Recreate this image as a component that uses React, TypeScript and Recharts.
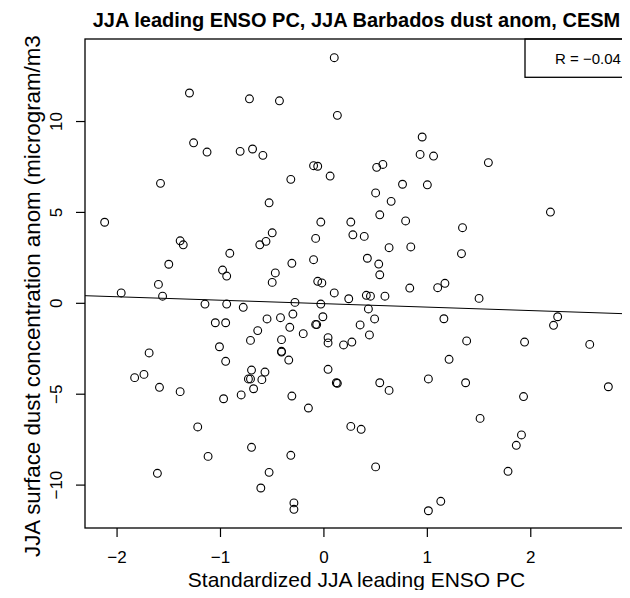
import React from 'react';
import { ScatterChart, Scatter, XAxis, YAxis, ReferenceLine } from 'recharts';

const FONT = '"Liberation Sans", Arial, Helvetica, sans-serif';

// Standardized JJA leading ENSO PC
const enso = [
  0.10, -1.30, -0.72, -0.43, 0.13, -1.26, -1.13, -0.81, -0.69, -0.59,
  -0.10, -0.06, 0.06, -1.58, -0.32, -0.53, 0.95, 0.93, 1.06, 1.59,
  0.51, 0.57, 0.76, 1.00, 0.50, 0.65, 2.19, -2.12, -0.03, -0.50,
  -0.08, -1.39, -1.36, -0.62, -0.56, -0.91, -0.10, -0.31, -1.50, -0.98,
  -0.94, -0.47, -0.50, -0.06, -0.02, -1.60, 0.10, -1.96, -1.56, -1.15,
  -0.94, -0.28, -0.03, -0.78, -0.55, -0.42, -0.30, -0.01, -1.05, -0.95,
  -0.33, -0.08, -0.07, -0.64, -0.20, -0.71, -0.41, 0.04, 0.04, -1.01,
  -0.41, -0.41, -1.69, -0.34, -0.95, 0.04, -0.70, -0.57, -1.74, -1.83,
  -1.59, -1.39, -0.97, -0.80, -0.73, -0.71, -0.60, -0.68, -0.31, -0.15,
  0.12, 0.13, -1.22, -1.12, -0.70, -0.32, -1.61, -0.53, -0.61, -0.29,
  -0.29, 0.26, 0.54, 0.79, 1.34, 0.28, 0.39, 0.63, 0.84, 1.33,
  0.42, 0.53, 0.54, 0.24, 0.41, 0.45, 0.59, 0.83, 1.10, 1.17,
  1.50, 0.43, 0.49, 1.16, 0.35, 0.44, 2.26, 2.22, 0.19, 0.27,
  1.38, 1.94, 2.57, 1.21, 0.54, 0.63, 1.01, 1.37, 2.75, 1.93,
  1.51, 0.26, 0.36, 1.91, 1.86, 0.50, 1.78, 1.13, 1.01,
];

// JJA surface dust concentration anomaly (microgram/m3)
const dust = [
  13.51, 11.57, 11.25, 11.14, 10.34, 8.83, 8.32, 8.36, 8.49, 8.14,
  7.57, 7.54, 7.00, 6.60, 6.82, 5.53, 9.15, 8.19, 8.10, 7.74,
  7.48, 7.64, 6.55, 6.52, 6.07, 5.61, 5.02, 4.46, 4.47, 3.88,
  3.57, 3.44, 3.22, 3.22, 3.41, 2.75, 2.40, 2.20, 2.15, 1.83,
  1.50, 1.67, 1.15, 1.21, 1.12, 1.04, 0.57, 0.57, 0.39, -0.04,
  -0.04, 0.05, -0.04, -0.22, -0.86, -0.79, -0.59, -0.74, -1.07, -1.07,
  -1.32, -1.16, -1.17, -1.50, -1.67, -2.04, -2.00, -1.89, -2.18, -2.39,
  -2.64, -2.68, -2.73, -3.12, -3.19, -3.63, -3.67, -3.78, -3.91, -4.09,
  -4.62, -4.86, -5.25, -5.04, -4.16, -4.16, -4.20, -4.70, -5.10, -5.76,
  -4.37, -4.40, -6.80, -8.42, -7.92, -8.36, -9.35, -9.30, -10.16, -10.98,
  -11.33, 4.47, 4.87, 4.53, 4.16, 3.77, 3.68, 3.06, 3.10, 2.73,
  2.48, 2.16, 1.57, 0.25, 0.44, 0.39, 0.39, 0.84, 0.86, 1.10,
  0.27, -0.31, -0.86, -0.85, -1.19, -1.74, -0.74, -1.21, -2.29, -2.13,
  -2.07, -2.13, -2.26, -3.08, -4.37, -4.79, -4.16, -4.37, -4.59, -5.13,
  -6.33, -6.77, -6.93, -7.24, -7.81, -9.00, -9.24, -10.89, -11.41,
];

const xTicks = [-2, -1, 0, 1, 2];
const yTicks = [-10, -5, 0, 5, 10];
const xDomain: [number, number] = [-2.31, 2.94];
const yDomain: [number, number] = [-12.36, 14.54];
const fitIntercept = -0.02;
const fitSlope = -0.19;

const title = 'JJA leading ENSO PC, JJA Barbados dust anom, CESM';
const xLabel = 'Standardized JJA leading ENSO PC';
const yLabel = 'JJA surface dust concentration anom (microgram/m3';
const rLabel = 'R = \u22120.04';

const points = enso.map((x, i) => ({ x, y: dust[i] }));
const fitSegment = [
  { x: xDomain[0], y: fitIntercept + fitSlope * xDomain[0] },
  { x: xDomain[1], y: fitIntercept + fitSlope * xDomain[1] },
];

const fmt = (v: number) => (v < 0 ? '\u2212' + Math.abs(v) : String(v));

const Ring = (props: any) => (
  <circle cx={props.cx} cy={props.cy} r={3.9} fill="none" stroke="#000" strokeWidth={1.1} />
);

const YTick = (props: any) => {
  const { x, y, payload } = props;
  return (
    <text
      x={x}
      y={y}
      transform={`rotate(-90 ${x} ${y})`}
      textAnchor="middle"
      fontSize={17}
      fontFamily={FONT}
      fill="#000"
    >
      {fmt(payload.value)}
    </text>
  );
};

// plot frame (matches chart margins / axis sizes below)
const PL = 85, PT = 39, PW = 543, PH = 489;

export default function App() {
  return (
    <div style={{ position: 'relative', margin: -8, width: 630, height: 598, background: '#fff' }}>
      <ScatterChart width={630} height={598} margin={{ top: PT, right: 630 - PL - PW, bottom: 0, left: 0 }}>
        <XAxis
          type="number"
          dataKey="x"
          domain={xDomain}
          ticks={xTicks}
          allowDataOverflow
          axisLine={false}
          tickSize={9}
          tickMargin={14}
          height={598 - PT - PH}
          tickLine={{ stroke: '#000', strokeWidth: 1.2 }}
          tick={{ fontSize: 17, fill: '#000', fontFamily: FONT }}
          tickFormatter={fmt}
        />
        <YAxis
          type="number"
          dataKey="y"
          domain={yDomain}
          ticks={yTicks}
          allowDataOverflow
          axisLine={false}
          tickSize={9}
          tickMargin={14}
          width={PL}
          tickLine={{ stroke: '#000', strokeWidth: 1.2 }}
          tick={<YTick />}
        />
        <ReferenceLine segment={fitSegment} stroke="#000" strokeWidth={1} ifOverflow="visible" />
        <Scatter data={points} shape={<Ring />} isAnimationActive={false} />
      </ScatterChart>
      <svg
        width={630}
        height={598}
        style={{ position: 'absolute', left: 0, top: 0, pointerEvents: 'none' }}
      >
        <rect x={PL} y={PT} width={PW} height={PH} fill="none" stroke="#000" strokeWidth={1.3} />
        <text x={356.5} y={27} textAnchor="middle" fontSize={20} fontWeight="bold" fontFamily={FONT} fill="#000">
          {title}
        </text>
        <text x={356.5} y={587} textAnchor="middle" fontSize={21} fontFamily={FONT} fill="#000">
          {xLabel}
        </text>
        <text
          x={40}
          y={557}
          transform="rotate(-90 40 557)"
          textAnchor="start"
          fontSize={22.3}
          fontFamily={FONT}
          fill="#000"
        >
          {yLabel}
        </text>
        <rect x={525} y={PT} width={103} height={38.3} fill="none" stroke="#000" strokeWidth={1.3} />
        <text x={555} y={63.5} fontSize={15} fontFamily={FONT} fill="#000">
          {rLabel}
        </text>
      </svg>
    </div>
  );
}
